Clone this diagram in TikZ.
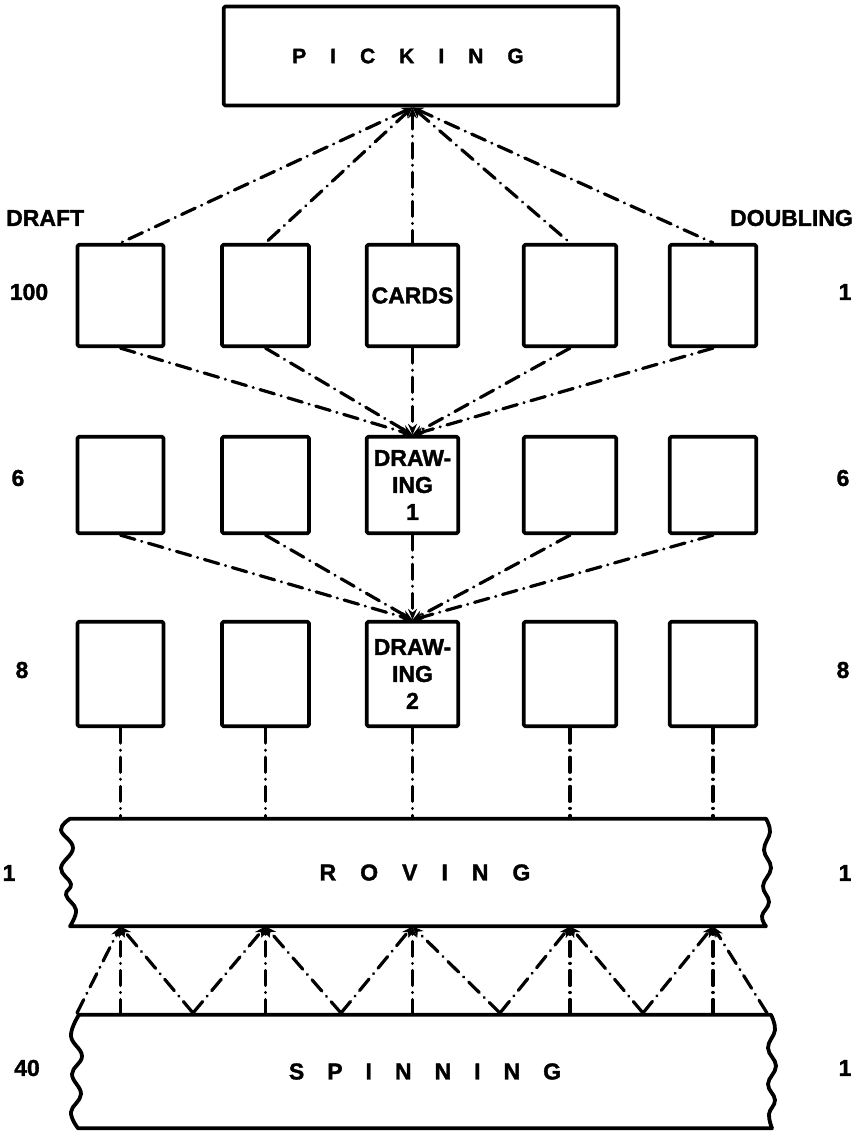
\documentclass[tikz,border=0pt]{standalone}
\usepackage{fontspec}
\setmainfont{Liberation Sans}[BoldFeatures={FakeBold=1.5}]
\usetikzlibrary{arrows.meta}
\newlength\lgap
\newcommand\lsp{\hspace{\lgap}}
\begin{document}
\begin{tikzpicture}[x=1pt,y=-1pt,
  >={Stealth[length=11pt,width=9pt]},
  outl/.style={draw, line width=3.8pt, line join=round},
  cell/.style={outl, rounded corners=1.5pt, inner sep=0pt, align=center,
    font=\bfseries\fontsize{23}{27}\selectfont},
  band/.style={inner sep=0pt, font=\bfseries\fontsize{23}{27}\selectfont},
  lab/.style={inner sep=0pt, font=\bfseries\fontsize{23}{27}\selectfont},
  dd/.style={line width=3.2pt, line cap=round, dash pattern=on 15pt off 7pt on 0.1pt off 7pt}
]
\useasboundingbox (0,0) rectangle (856,1141);

% top box
\node[cell, minimum width=394.5, minimum height=99] (pick) at (421,56)
  {\fontsize{21}{24}\selectfont\setlength\lgap{24pt}P\lsp I\lsp C\lsp K\lsp I\lsp N\lsp G\hspace{26pt}};

% row 1
\node[cell, minimum width=86, minimum height=101.5] (a1) at (120.5,295.5) {};
\node[cell, minimum width=87, minimum height=101.5] (a2) at (265.5,295.5) {};
\node[cell, minimum width=91.5, minimum height=101.5] (a3) at (412.5,295.5) {CARDS};
\node[cell, minimum width=92.5, minimum height=101.5] (a4) at (570,295.5) {};
\node[cell, minimum width=86.5, minimum height=101.5] (a5) at (713,295.5) {};
% row 2
\node[cell, minimum width=86, minimum height=96.5] (b1) at (120.5,485) {};
\node[cell, minimum width=87, minimum height=96.5] (b2) at (265.5,485) {};
\node[cell, minimum width=91.5, minimum height=96.5] (b3) at (412.5,485) {DRAW-\\ING\\1};
\node[cell, minimum width=92.5, minimum height=96.5] (b4) at (570,485) {};
\node[cell, minimum width=86.5, minimum height=96.5] (b5) at (713,485) {};
% row 3
\node[cell, minimum width=86, minimum height=104.5] (c1) at (120.5,674) {};
\node[cell, minimum width=87, minimum height=104.5] (c2) at (265.5,674) {};
\node[cell, minimum width=91.5, minimum height=104.5] (c3) at (412.5,674) {DRAW-\\ING\\2};
\node[cell, minimum width=92.5, minimum height=104.5] (c4) at (570,674) {};
\node[cell, minimum width=86.5, minimum height=104.5] (c5) at (713,674) {};

% roving and spinning bands
\node[band, minimum width=696, minimum height=107.5] (rov) at (425,872.5)
  {\setlength\lgap{24pt}R\lsp O\lsp V\lsp I\lsp N\lsp G};
\node[band, minimum width=692, minimum height=113.5] (spin) at (425,1071.5)
  {\setlength\lgap{23pt}S\lsp P\lsp I\lsp N\lsp N\lsp I\lsp N\lsp G};

\draw[outl] (70,818.75) -- (766,818.75)
  -- plot[smooth,tension=.7] coordinates {(766,818.75) (770,832) (764,850) (771,868) (763,886) (769,902) (762,916) (766,926.25)}
  -- (70,926.25)
  -- plot[smooth,tension=.7] coordinates {(70,926.25) (76,910) (66,895) (71,884) (61,868) (73,848) (61,830) (70,818.75)}
  -- cycle;
\draw[outl] (79,1014.75) -- (771,1014.75)
  -- plot[smooth,tension=.7] coordinates {(771,1014.75) (775,1030) (768,1048) (776,1066) (768,1084) (775,1100) (769,1114) (772,1128.25)}
  -- (78,1128.25)
  -- plot[smooth,tension=.7] coordinates {(78,1128.25) (71,1112) (81,1094) (72,1074) (82,1056) (71,1036) (79,1014.75)}
  -- cycle;

% side labels
\node[lab, anchor=west] (draft) at (6,218) {DRAFT};
\node[lab, anchor=east] (doubling) at (853,218) {DOUBLING};
\node[lab] (l1) at (29,292) {100};
\node[lab] (l2) at (18,478) {6};
\node[lab] (l3) at (22,670) {8};
\node[lab] (l4) at (9,873) {1};
\node[lab] (l5) at (27,1068) {40};
\node[lab] (r1) at (845,292) {1};
\node[lab] (r2) at (843,478) {6};
\node[lab] (r3) at (843,670) {8};
\node[lab] (r4) at (845,873) {1};
\node[lab] (r5) at (845,1068) {1};

% picking to row 1
\coordinate (pk) at (a3.north |- pick.south);
\foreach \i in {1,...,5} \draw[dd,<-] (pk) -- (a\i.north);
% row 1 to drawing 1
\foreach \i in {1,...,5} \draw[dd,->] (a\i.south) -- (b3.north);
% row 2 to drawing 2
\foreach \i in {1,...,5} \draw[dd,->] (b\i.south) -- (c3.north);
% row 3 to roving
\foreach \i in {1,...,5} \draw[dd] (c\i.south) -- (c\i.south |- rov.north);
% spinning to roving
\foreach \i in {1,...,5} \draw[dd,->] (c\i.south |- spin.north) -- (c\i.south |- rov.south);
\coordinate (v0) at (77,1013);
\coordinate (v1) at (193,1013);
\coordinate (v2) at (341,1013);
\coordinate (v3) at (500,1013);
\coordinate (v4) at (643,1013);
\coordinate (v5) at (767,1013);
\foreach \i/\j in {0/1,1/2,2/3,3/4,4/5} \draw[dd,->] (v\i) -- (c\j.south |- rov.south);
\foreach \i/\j in {1/1,2/2,3/3,4/4,5/5} \draw[dd,->] (v\i) -- (c\j.south |- rov.south);
\end{tikzpicture}
\end{document}
